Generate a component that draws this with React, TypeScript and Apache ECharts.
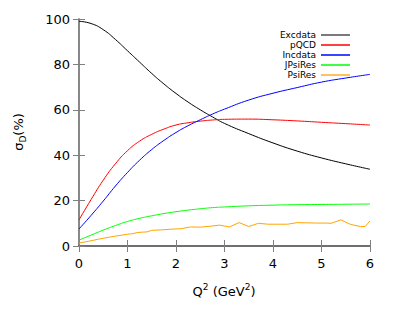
import React, { useEffect, useRef } from "react";
import * as echarts from "echarts";

const xGrid = [0, 0.25, 0.5, 0.75, 1, 1.25, 1.5, 1.75, 2, 2.25, 2.5, 2.75, 3, 3.5, 4, 4.5, 5, 5.5, 6];
const excdata = [99, 98, 95.3, 91, 86, 81, 76, 71.4, 67.2, 63.4, 60, 56.9, 54, 49.5, 45.4, 41.8, 38.8, 36.2, 33.8];
const pqcd = [11.5, 20.5, 29, 36.2, 42, 46.2, 49.2, 51.5, 53.3, 54.3, 55, 55.5, 55.8, 55.9, 55.6, 55.1, 54.5, 53.9, 53.3];
const incdata = [7.5, 13.5, 19.8, 26.4, 32.4, 37.8, 42.5, 46.5, 50, 53, 55.6, 58.1, 60.3, 64.3, 67.3, 69.8, 72.2, 74, 75.6];
const jpsires = [2.6, 4.8, 7, 9, 10.8, 12.2, 13.3, 14.3, 15.1, 15.8, 16.4, 16.9, 17.2, 17.7, 18, 18.2, 18.3, 18.4, 18.5];

const psiX = [0, 0.2, 0.4, 0.6, 0.8, 1.0, 1.1, 1.2, 1.3, 1.4, 1.5, 1.7, 1.9, 2.1, 2.3, 2.5, 2.7, 2.9, 3.1, 3.3, 3.5, 3.7, 3.9, 4.1, 4.3, 4.5, 4.7, 4.9, 5.1, 5.2, 5.4, 5.6, 5.8, 5.9, 6.0];
const psires = [1.3, 2.1, 3.0, 3.8, 4.5, 5.2, 5.4, 5.9, 6.1, 6.2, 6.9, 7.1, 7.4, 7.6, 8.4, 8.3, 8.7, 9.2, 8.4, 10.3, 8.6, 10.0, 9.6, 9.6, 9.6, 10.3, 10.2, 10.1, 10.1, 10.0, 11.5, 9.5, 8.6, 8.6, 11.0];

const xTicks = [0, 1, 2, 3, 4, 5, 6];
const yTicks = [0, 20, 40, 60, 80, 100];

const FONT = "DejaVu Sans";

export default function App() {
  const ref = useRef<HTMLDivElement>(null);
  useEffect(() => {
    if (!ref.current) return;
    const chart = echarts.init(ref.current, null, { renderer: "svg" });
    const pair = (xs: number[], ys: number[]) => xs.map((x, i) => [x, ys[i]]);
    const mk = (name: string, xs: number[], ys: number[], color: string, smooth: boolean) => ({
      name,
      type: "line",
      data: pair(xs, ys),
      symbol: "none",
      smooth: smooth ? 0.5 : false,
      lineStyle: { color, width: 1 },
      itemStyle: { color },
      xAxisIndex: 0,
      yAxisIndex: 0,
    });
    const gray = "#808080";
    const baseX = {
      type: "value",
      min: xTicks[0],
      max: xTicks[xTicks.length - 1],
      interval: 1,
      splitLine: { show: false },
    };
    const baseY = {
      type: "value",
      min: yTicks[0],
      max: yTicks[yTicks.length - 1],
      interval: 20,
      splitLine: { show: false },
    };
    const legendNames = ["Excdata", "pQCD", "Incdata", "JPsiRes", "PsiRes"];
    const legendColors = ["#7a7a7a", "#ff4040", "#4040ff", "#40ff40", "#ffc060"];
    chart.setOption({
      animation: false,
      grid: { left: 79, right: 29, top: 19, bottom: 73, containLabel: false },
      xAxis: [
        {
          ...baseX,
          position: "bottom",
          axisLine: { lineStyle: { color: "#000", width: 1.5 } },
          axisTick: { inside: true, length: 6, lineStyle: { color: gray } },
          axisLabel: { color: "#000", fontSize: 13, fontFamily: FONT, margin: 11 },
        },
        {
          ...baseX,
          position: "top",
          axisLine: { lineStyle: { color: gray, width: 1.5 } },
          axisTick: { inside: true, length: 6, lineStyle: { color: gray } },
          axisLabel: { show: false },
        },
      ],
      yAxis: [
        {
          ...baseY,
          position: "left",
          axisLine: { show: true, lineStyle: { color: gray, width: 1.5 } },
          axisTick: { show: true, inside: true, length: 6, lineStyle: { color: gray } },
          axisLabel: { color: "#000", fontSize: 13, fontFamily: FONT, margin: 9 },
        },
        {
          ...baseY,
          position: "right",
          axisLine: { show: true, lineStyle: { color: gray, width: 1.5 } },
          axisTick: { show: true, inside: true, length: 6, lineStyle: { color: gray } },
          axisLabel: { show: false },
        },
      ],
      legend: {
        orient: "vertical",
        right: 44,
        top: 25,
        align: "right",
        itemWidth: 29,
        itemHeight: 2,
        itemGap: 0,
        icon: "rect",
        textStyle: { fontSize: 9, fontFamily: FONT, color: "#000", lineHeight: 10 },
        data: legendNames.map((n, i) => ({ name: n, itemStyle: { color: legendColors[i] } })),
      },
      graphic: [
        {
          type: "text",
          x: 18,
          y: 132,
          rotation: Math.PI / 2,
          style: {
            text: "{a|σ}{s|D}{a|(%)}",
            align: "center",
            verticalAlign: "middle",
            fill: "#000",
            rich: {
              a: { fontSize: 13, fontFamily: FONT, lineHeight: 18, verticalAlign: "middle", fill: "#000" },
              s: { fontSize: 9, fontFamily: FONT, lineHeight: 18, verticalAlign: "bottom", fill: "#000" },
            },
          },
        },
        {
          type: "text",
          x: 224,
          y: 291,
          style: {
            text: "{a|Q}{p|2}{a| (GeV}{p|2}{a|)}",
            align: "center",
            verticalAlign: "middle",
            fill: "#000",
            rich: {
              a: { fontSize: 13, fontFamily: FONT, lineHeight: 18, verticalAlign: "middle", fill: "#000" },
              p: { fontSize: 9, fontFamily: FONT, lineHeight: 18, verticalAlign: "top", fill: "#000" },
            },
          },
        },
      ],
      series: [
        mk("Excdata", xGrid, excdata, "#000000", true),
        mk("pQCD", xGrid, pqcd, "#ff0000", true),
        mk("Incdata", xGrid, incdata, "#0000ff", true),
        mk("JPsiRes", xGrid, jpsires, "#00ff00", true),
        mk("PsiRes", psiX, psires, "#ffa500", false),
      ],
    });
    return () => chart.dispose();
  }, []);
  return <div ref={ref} style={{ width: 399, height: 319, position: "absolute", left: 0, top: 0 }} />;
}
